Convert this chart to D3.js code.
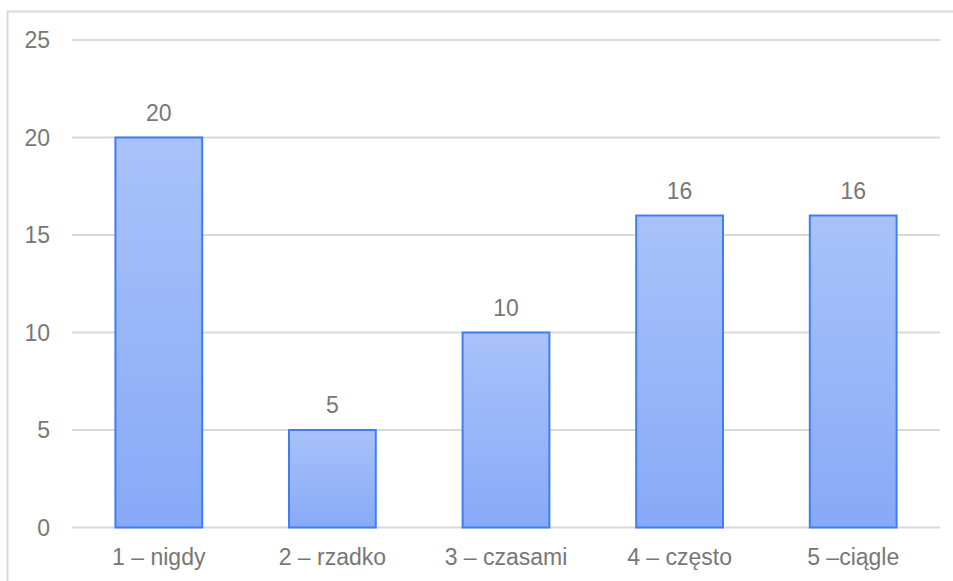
<!DOCTYPE html>
<html>
<head>
<meta charset="utf-8">
<script src="https://cdn.jsdelivr.net/npm/d3@7"></script>
<style>
  body { margin: 0; background: #fff; }
  text { font-family: "Liberation Sans", Arial, sans-serif; fill: #777777; }
</style>
</head>
<body>
<div id="chart"></div>
<script>
const categories = ["1 \u2013 nigdy", "2 \u2013 rzadko", "3 \u2013 czasami", "4 \u2013 cz\u0119sto", "5 \u2013ci\u0105gle"];
const values = [20, 5, 10, 16, 16];
const yTicks = [0, 5, 10, 15, 20, 25];

const width = 953,
  height = 581,
  margin = { top: 40, right: 13, bottom: 53.5, left: 72 };

const svg = d3.select("#chart")
  .append("svg")
  .attr("width", width)
  .attr("height", height);

// frame
svg.append("path")
  .attr("d", `M7.5,${height} V11.5 H${width}`)
  .attr("fill", "none")
  .attr("stroke", "#d9d9d9")
  .attr("stroke-width", 2);

const defs = svg.append("defs");
const grad = defs.append("linearGradient")
  .attr("id", "barGrad")
  .attr("x1", 0).attr("y1", 0).attr("x2", 0).attr("y2", 1);
grad.append("stop").attr("offset", "0%").attr("stop-color", "#a9c2f9");
grad.append("stop").attr("offset", "100%").attr("stop-color", "#87a9f8");

const x = d3.scaleBand(categories, [margin.left, width - margin.right])
  .paddingInner(0.5)
  .paddingOuter(0.25);

const y = d3.scaleLinear([0, 25], [height - margin.bottom, margin.top]);

// grid
svg.append("g")
  .selectAll("line")
  .data(yTicks)
  .join("line")
  .attr("x1", margin.left)
  .attr("x2", width - margin.right)
  .attr("y1", d => y(d))
  .attr("y2", d => y(d))
  .attr("stroke", "#d9d9d9")
  .attr("stroke-width", 2);

svg.append("g")
  .selectAll("text")
  .data(yTicks)
  .join("text")
  .attr("x", 50)
  .attr("y", d => y(d))
  .attr("dy", "0.35em")
  .attr("text-anchor", "end")
  .attr("font-size", 23)
  .text(d => d);

svg.append("g")
  .selectAll("rect")
  .data(values)
  .join("rect")
  .attr("x", (d, i) => x(categories[i]))
  .attr("y", d => y(d))
  .attr("width", x.bandwidth())
  .attr("height", d => y(0) - y(d))
  .attr("fill", "url(#barGrad)")
  .attr("stroke", "#3f7ef2")
  .attr("stroke-width", 2);

svg.append("g")
  .selectAll("text")
  .data(values)
  .join("text")
  .attr("x", (d, i) => x(categories[i]) + x.bandwidth() / 2)
  .attr("y", d => y(d) - 17)
  .attr("text-anchor", "middle")
  .attr("font-size", 23)
  .text(d => d);

svg.append("g")
  .selectAll("text")
  .data(categories)
  .join("text")
  .attr("x", d => x(d) + x.bandwidth() / 2)
  .attr("y", height - margin.bottom + 29)
  .attr("dy", "0.35em")
  .attr("text-anchor", "middle")
  .attr("font-size", 23)
  .text(d => d);
</script>
</body>
</html>
